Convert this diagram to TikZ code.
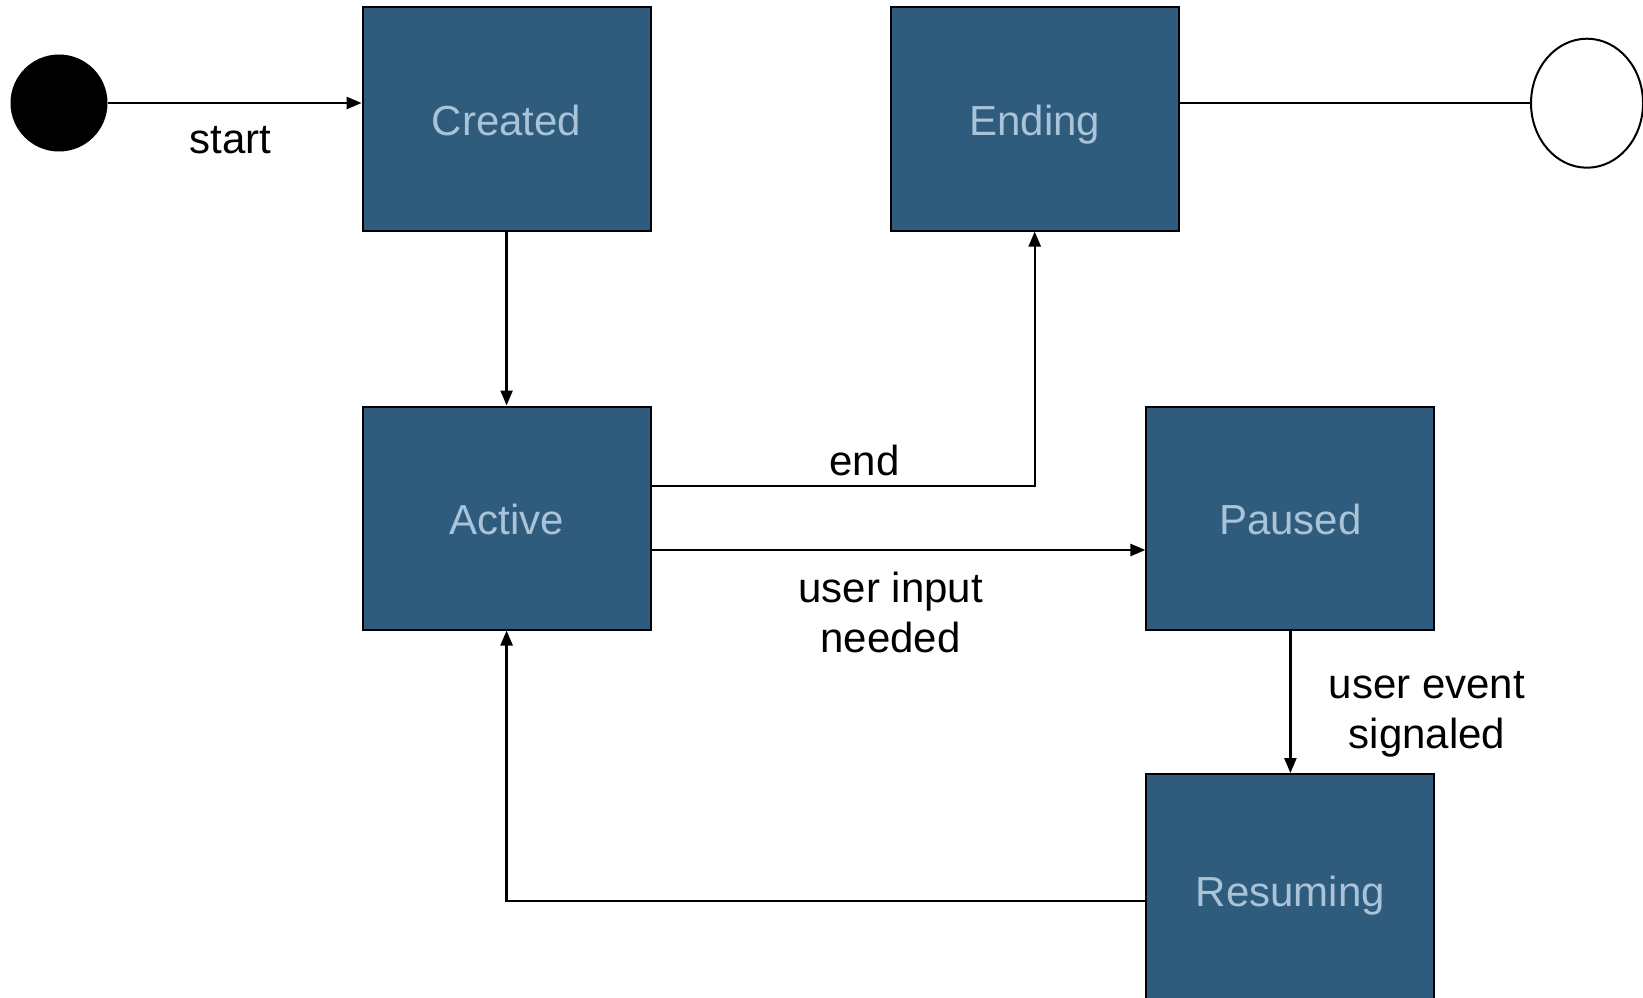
\documentclass[tikz,border=0pt]{standalone}
\usepackage{fontspec}
\setmainfont{Liberation Sans}
\usetikzlibrary{arrows.meta,shapes.geometric}
\definecolor{statefill}{HTML}{2F5B7C}
\definecolor{statetext}{HTML}{A9C4D8}
\tikzset{
  statebox/.style={draw=black, line width=2pt, fill=statefill, text=statetext,
    minimum width=288pt, minimum height=223pt, inner sep=0pt,
    text height=32pt, text depth=0pt,
    font=\fontsize{42}{50}\selectfont},
  conn/.style={draw=black, line width=2.4pt},
  arr/.style={conn, -{Triangle[length=15pt,width=12pt]}},
  lbl/.style={text=black, align=center, inner sep=0pt, font=\fontsize{42}{50}\selectfont}
}
\begin{document}
\begin{tikzpicture}[x=1pt, y=-1pt]
\useasboundingbox (0,0) rectangle (1643,998);
\begin{scope}
\clip (0,0) rectangle (1643,998);
% initial and final pseudo-states
\node[circle, fill=black, minimum size=97pt, inner sep=0pt] (init) at (59,103) {};
\node[ellipse, draw=black, line width=2pt, fill=white, minimum width=112pt,
      minimum height=129pt, inner sep=0pt] (final) at (1587,103.2) {};
% states
\node[statebox] (created)  at (506.6,119)   {Created};
\node[statebox] (ending)   at (1034.7,119)  {Ending};
\node[statebox] (active)   at (506.6,518)   {Active};
\node[statebox] (paused)   at (1290.4,518)  {Paused};
\node[statebox, minimum height=232pt] (resuming) at (1290.4,890) {Resuming};
% transitions
\draw[arr] (init.east) -- (init.east -| created.west);
\draw[conn] (final.west -| ending.east) -- (final.west);
\draw[arr] (created.south) -- (active.north);
\draw[arr] ([yshift=32pt]active.east) -| (ending.south);
\draw[arr] ([yshift=-32pt]active.east) -- ([yshift=-32pt]paused.west);
\draw[arr] (paused.south) -- (resuming.north);
\draw[arr] ([yshift=-11pt]resuming.west) -| (active.south);
\end{scope}
% transition labels
\node[lbl] (lstart) at (230.5,140) {start};
\node[lbl] (lend) at (864.5,460) {end};
\node[lbl] (linput) at (890.6,612) {user input\\needed};
\node[lbl] (levent) at (1427,714) {user event\\signaled};
\end{tikzpicture}
\end{document}
